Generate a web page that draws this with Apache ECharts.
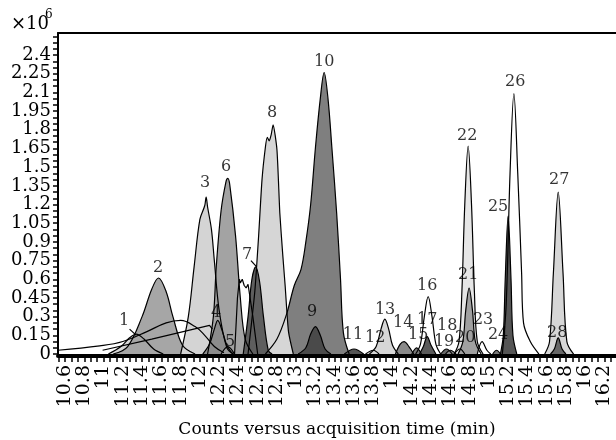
<!DOCTYPE html>
<html>
<head>
<meta charset="utf-8">
<script src="https://cdn.jsdelivr.net/npm/echarts@6/dist/echarts.min.js"></script>
<style>
html, body { margin: 0; padding: 0; background: #fff; }
#main { width: 616px; height: 440px; }
</style>
</head>
<body>
<div id="main"></div>
<script>
// tick labels
var xLabels = [10.6, 10.8, 11, 11.2, 11.4, 11.6, 11.8, 12, 12.2, 12.4, 12.6, 12.8, 13, 13.2, 13.4, 13.6, 13.8, 14, 14.2, 14.4, 14.6, 14.8, 15, 15.2, 15.4, 15.6, 15.8, 16, 16.2];
var yLabels = [0, 0.15, 0.3, 0.45, 0.6, 0.75, 0.9, 1.05, 1.2, 1.35, 1.5, 1.65, 1.8, 1.95, 2.1, 2.25, 2.4];

// peaks, [time (min), counts x10^6]
var shoulder = [[12.36, 0], [12.39, 0.45], [12.41, 0.6], [12.42, 0.57], [12.44, 0.6], [12.46, 0.55], [12.48, 0.53], [12.5, 0.56], [12.55, 0.3], [12.6, 0]];
var p1 = [[11.05, 0], [11.18, 0.06], [11.27, 0.13], [11.34, 0.16], [11.42, 0.12], [11.52, 0.04], [11.62, 0]];
var p2 = [[11.1, 0], [11.25, 0.06], [11.4, 0.3], [11.5, 0.52], [11.57, 0.61], [11.65, 0.5], [11.72, 0.3], [11.82, 0.07], [11.95, 0]];
var p3 = [[11.8, 0], [11.88, 0.3], [11.94, 0.7], [12.0, 1.08], [12.05, 1.19], [12.065, 1.26], [12.08, 1.18], [12.12, 1.0], [12.15, 0.75], [12.2, 0.35], [12.28, 0.05], [12.35, 0]];
var p4 = [[12.03, 0], [12.1, 0.08], [12.15, 0.2], [12.185, 0.27], [12.23, 0.19], [12.28, 0.07], [12.34, 0]];
var p5 = [[12.22, 0], [12.29, 0.06], [12.36, 0]];
var p6 = [[12.08, 0], [12.14, 0.3], [12.17, 0.7], [12.22, 1.15], [12.27, 1.38], [12.29, 1.41], [12.31, 1.36], [12.37, 0.95], [12.42, 0.45], [12.47, 0.12], [12.55, 0]];
var p7 = [[12.45, 0], [12.5, 0.3], [12.54, 0.6], [12.58, 0.7], [12.62, 0.58], [12.66, 0.3], [12.71, 0.03], [12.75, 0]];
var p8 = [[12.5, 0], [12.57, 0.5], [12.61, 0.95], [12.645, 1.4], [12.68, 1.66], [12.7, 1.74], [12.72, 1.71], [12.74, 1.76], [12.76, 1.84], [12.8, 1.64], [12.83, 1.13], [12.86, 0.8], [12.885, 0.55], [12.92, 0.18], [12.97, 0]];
var p9 = [[13.02, 0], [13.1, 0.05], [13.15, 0.16], [13.2, 0.22], [13.25, 0.15], [13.3, 0.04], [13.36, 0]];
var p10 = [[12.68, 0], [12.8, 0.12], [12.9, 0.32], [12.98, 0.55], [13.05, 0.68], [13.1, 0.9], [13.15, 1.2], [13.2, 1.66], [13.25, 2.05], [13.29, 2.26], [13.33, 2.05], [13.37, 1.66], [13.42, 1.13], [13.46, 0.6], [13.49, 0.17], [13.55, 0]];
var p11 = [[13.5, 0], [13.6, 0.04], [13.7, 0]];
var p12 = [[13.72, 0], [13.8, 0.03], [13.86, 0]];
var p13 = [[13.76, 0], [13.83, 0.06], [13.88, 0.2], [13.92, 0.28], [13.96, 0.2], [14.0, 0.07], [14.06, 0]];
var p14 = [[14.03, 0], [14.08, 0.08], [14.12, 0.1], [14.17, 0.06], [14.22, 0]];
var p15 = [[14.2, 0], [14.25, 0.05], [14.3, 0]];
var p16 = [[14.24, 0], [14.29, 0.08], [14.33, 0.3], [14.37, 0.46], [14.41, 0.3], [14.45, 0.08], [14.5, 0]];
var p17 = [[14.28, 0], [14.32, 0.06], [14.36, 0.14], [14.4, 0.07], [14.45, 0]];
var p18 = [[14.5, 0], [14.56, 0.04], [14.62, 0]];
var p19 = [[14.55, 0], [14.6, 0.03], [14.66, 0]];
var p20 = [[14.64, 0], [14.7, 0.04], [14.75, 0]];
var p21 = [[14.68, 0], [14.73, 0.1], [14.76, 0.35], [14.795, 0.53], [14.83, 0.35], [14.86, 0.1], [14.92, 0]];
var p22 = [[14.64, 0], [14.69, 0.1], [14.72, 0.5], [14.75, 1.2], [14.785, 1.67], [14.82, 1.2], [14.85, 0.5], [14.88, 0.1], [14.94, 0]];
var p23 = [[14.88, 0], [14.93, 0.1], [14.98, 0.03], [15.02, 0]];
var p24 = [[15.04, 0], [15.08, 0.03], [15.12, 0]];
var p25 = [[15.12, 0], [15.15, 0.15], [15.17, 0.6], [15.2, 1.11], [15.23, 0.6], [15.25, 0.15], [15.29, 0]];
var p26 = [[15.14, 0], [15.18, 0.4], [15.22, 1.45], [15.26, 2.09], [15.3, 1.45], [15.34, 0.65], [15.36, 0.25], [15.43, 0.1], [15.52, 0]];
var p27 = [[15.58, 0], [15.63, 0.1], [15.67, 0.65], [15.72, 1.3], [15.77, 0.65], [15.81, 0.1], [15.88, 0]];
var p28 = [[15.64, 0], [15.68, 0.04], [15.72, 0.13], [15.76, 0.04], [15.8, 0]];
// unfilled traces
var drift = [[10.527, 0.03], [10.96, 0.065], [11.2, 0.1], [11.45, 0.18], [11.65, 0.25], [11.8, 0.27], [11.95, 0.22], [12.05, 0.15], [12.15, 0.06], [12.25, 0.01]];
var slope = [[10.99, 0.03], [11.5, 0.12], [12.1, 0.23], [12.13, 0.2]];
// peak number labels [time, counts, text]
var peakLabels = [
  [11.213, 0.265, '1'], [11.566, 0.69, '2'], [12.054, 1.372, '3'], [12.168, 0.33, '4'],
  [12.313, 0.096, '5'], [12.272, 1.5, '6'], [12.49, 0.795, '7'], [12.75, 1.934, '8'],
  [13.165, 0.337, '9'], [13.29, 2.343, '10'], [13.59, 0.152, '11'], [13.82, 0.128, '12'],
  [13.923, 0.353, '13'], [14.11, 0.249, '14'], [14.266, 0.152, '15'], [14.36, 0.546, '16'],
  [14.36, 0.273, '17'], [14.567, 0.225, '18'], [14.535, 0.096, '19'], [14.754, 0.128, '20'],
  [14.785, 0.634, '21'], [14.775, 1.75, '22'], [14.94, 0.273, '23'], [15.096, 0.152, '24'],
  [15.096, 1.18, '25'], [15.273, 2.183, '26'], [15.73, 1.396, '27'], [15.709, 0.169, '28']
];
var leader1 = [[11.27, 0.2], [11.34, 0.15]];
var leader7 = [[12.53, 0.75], [12.59, 0.7]];

var FONT = 'DejaVu Serif';

// small ticks: 3 per x label, every 0.05 on y
var xTicks = [];
for (var i = -1; i <= (xLabels.length - 1) * 3 + 1; i++) {
  xTicks.push(+(xLabels[0] + i / 15).toFixed(4));
}
var yTicks = [];
for (var j = 0; j <= 51; j++) {
  yTicks.push(+(j * 0.05).toFixed(2));
}

function peak(data, fill, smooth) {
  return {
    type: 'line',
    data: data,
    smooth: smooth === undefined ? 0.35 : smooth,
    symbol: 'none',
    silent: true,
    lineStyle: { color: '#000', width: 1.2 },
    areaStyle: fill ? { color: fill, opacity: 1 } : undefined
  };
}

var dom = document.getElementById('main');
var myChart = echarts.init(dom);
var option;

option = {
  animation: false,
  backgroundColor: '#fff',
  grid: { left: 58, right: 0, top: 33, bottom: 84 },
  xAxis: [
    {
      type: 'value',
      min: 10.527,
      max: 16.32,
      splitLine: { show: false },
      axisLine: { onZero: false, lineStyle: { color: '#000', width: 4 } },
      axisTick: { customValues: xTicks, length: 6, lineStyle: { color: '#000', width: 1.5 } },
      axisLabel: {
        customValues: xLabels,
        showMinLabel: true,
        showMaxLabel: true,
        rotate: 90,
        margin: 9,
        color: '#000',
        fontFamily: FONT,
        fontSize: 19,
        formatter: function (v) { return String(+v.toFixed(1)); }
      }
    },
    {
      type: 'value',
      position: 'top',
      min: 10.527,
      max: 16.32,
      splitLine: { show: false },
      axisLine: { show: true, onZero: false, lineStyle: { color: '#000', width: 2 } },
      axisTick: { show: false },
      axisLabel: { show: false }
    }
  ],
  yAxis: {
    type: 'value',
    min: -0.016,
    max: 2.577,
    splitLine: { show: false },
    axisLine: { show: true, onZero: false, lineStyle: { color: '#000', width: 2 } },
    axisTick: { customValues: yTicks, length: 5, lineStyle: { color: '#000', width: 1.5 } },
    axisLabel: {
      customValues: yLabels,
      showMinLabel: true,
      showMaxLabel: true,
      margin: 7,
      color: '#000',
      fontFamily: FONT,
      fontSize: 18
    }
  },
  graphic: [
    { type: 'text', left: 11, top: 15, style: { text: '×10', font: '18px "DejaVu Serif"', fill: '#000' } },
    { type: 'text', left: 45, top: 9, style: { text: '6', font: '12px "DejaVu Serif"', fill: '#000' } },
    { type: 'text', x: 337, y: 430, style: { text: 'Counts versus acquisition time (min)', font: '17px "DejaVu Serif"', fill: '#000', textAlign: 'center', textVerticalAlign: 'middle' } }
  ],
  series: [
    peak(shoulder, '#fff', false),
    peak(p26, '#fff'),
    peak(p16, '#fff'),
    peak(p1, '#d9d9d9'),
    peak(p2, '#a6a6a6'),
    peak(p3, '#d4d4d4'),
    peak(p6, '#a3a3a3'),
    peak(p4, '#8c8c8c'),
    peak(p5, '#9a9a9a'),
    peak(p10, '#7f7f7f'),
    peak(p8, '#d6d6d6', 0.2),
    peak(p7, '#5e5e5e'),
    peak(p9, '#4a4a4a'),
    peak(p11, '#555555'),
    peak(p12, '#cfcfcf'),
    peak(p13, '#d6d6d6'),
    peak(p14, '#8a8a8a'),
    peak(p15, '#777777'),
    peak(p17, '#5a5a5a'),
    peak(p18, '#666666'),
    peak(p19, '#888888'),
    peak(p20, '#bbbbbb'),
    peak(p22, '#e6e6e6'),
    peak(p21, '#a0a0a0'),
    peak(p23, '#ffffff'),
    peak(p24, '#777777'),
    peak(p25, '#555555'),
    peak(p27, '#d6d6d6'),
    peak(p28, '#666666'),
    peak(drift, null, 0.4),
    peak(slope, null, false),
    peak(leader1, null, false),
    peak(leader7, null, false),
    {
      type: 'scatter',
      data: peakLabels,
      symbolSize: 0,
      silent: true,
      z: 10,
      label: {
        show: true,
        position: 'inside',
        color: '#000',
        fontFamily: FONT,
        fontSize: 16,
        formatter: function (p) { return p.data[2]; }
      }
    }
  ]
};

if (option && typeof option === 'object') {
  myChart.setOption(option);
}
</script>
</body>
</html>
